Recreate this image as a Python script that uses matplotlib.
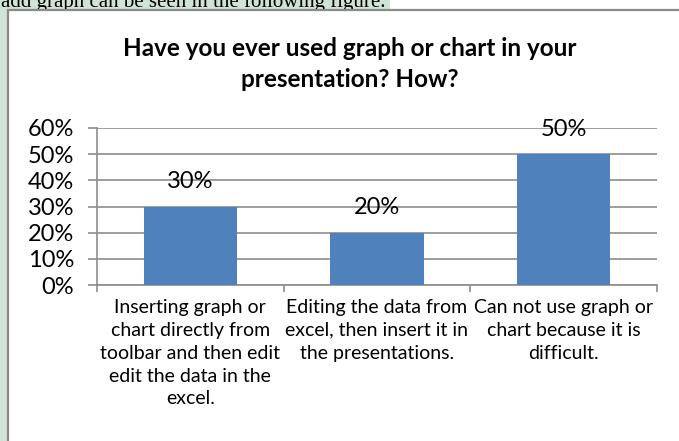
import matplotlib.pyplot as plt
import matplotlib.patches as patches
from matplotlib.ticker import PercentFormatter

categories = [
    "Inserting graph or\nchart directly from\ntoolbar and then edit\nedit the data in the\nexcel.",
    "Editing the data from\nexcel, then insert it in\nthe presentations.",
    "Can not use graph or\nchart because it is\ndifficult.",
]
values = [0.30, 0.20, 0.50]
y_ticks = [0, 0.1, 0.2, 0.3, 0.4, 0.5, 0.6]
title = "Have you ever used graph or chart in your\npresentation? How?"
page_text = "add graph can be seen in the following figure."

W, H = 679, 441
plt.rcParams['font.family'] = ['Lato', 'DejaVu Sans']

fig = plt.figure(figsize=(W / 100, H / 100), dpi=100)
fig.patch.set_facecolor('white')

def px(x0, y0, x1, y1):
    # pixel box (top-left origin) -> figure fraction rect
    return [x0 / W, 1 - y1 / H, (x1 - x0) / W, (y1 - y0) / H]

# page background around the chart frame
bg = '#cfe3d6'
fig.patches.append(patches.Rectangle((0, 1 - 10 / H), 390 / W, 10 / H, transform=fig.transFigure,
                                     facecolor=bg, edgecolor='none', zorder=0))
fig.patches.append(patches.Rectangle((0, 0), 8 / W, 1, transform=fig.transFigure,
                                     facecolor=bg, edgecolor='none', zorder=0))
fig.patches.append(patches.Rectangle((8 / W, -0.01), 1, 1 - 10 / H + 0.01, transform=fig.transFigure,
                                     facecolor='white', edgecolor='#8a8a8a', linewidth=1.6, zorder=1))
fig.text(1 / W, 1 - 7 / H, page_text, family='Liberation Serif', fontsize=15,
         va='baseline', ha='left', color='black', zorder=0.5)

ax = fig.add_axes(px(97, 128, 657, 285))
ax.set_zorder(2)
x = range(len(values))
bars = ax.bar(x, values, width=0.5, color='#4f81bd', zorder=3)

ax.set_xlim(-0.5, len(values) - 0.5)
ax.set_ylim(0, 0.6)
ax.set_yticks(y_ticks)
ax.yaxis.set_major_formatter(PercentFormatter(1.0, decimals=0))
ax.grid(axis='y', color='#8c8c8c', linewidth=1.2, zorder=1)
ax.set_axisbelow(True)
ax.patch.set_alpha(0)

for s in ['top', 'right']:
    ax.spines[s].set_visible(False)
for s in ['left', 'bottom']:
    ax.spines[s].set_color('#8c8c8c')
    ax.spines[s].set_linewidth(1.2)

ax.tick_params(axis='y', length=6.5, color='#8c8c8c', width=1.2, labelsize=17, pad=10)
ax.set_xticks([-0.5, 0.5, 1.5, 2.5])
ax.set_xticklabels([])
ax.tick_params(axis='x', length=5, color='#8c8c8c', width=1.2)
ax.set_xticks(list(x), minor=True)
ax.set_xticklabels(categories, minor=True, fontsize=14, linespacing=1.42)
ax.tick_params(axis='x', which='minor', length=0, pad=10)

for b, v in zip(bars, values):
    ax.annotate(f"{v:.0%}", (b.get_x() + b.get_width() / 2, v), xytext=(0, 18),
                textcoords='offset points', ha='center', va='center', fontsize=17, zorder=4)

fig.text(350 / W, 1 - 64 / H, title, ha='center', va='center', fontsize=17.5,
         fontweight='bold', linespacing=1.4)

fig.savefig('out.png', dpi=100)
